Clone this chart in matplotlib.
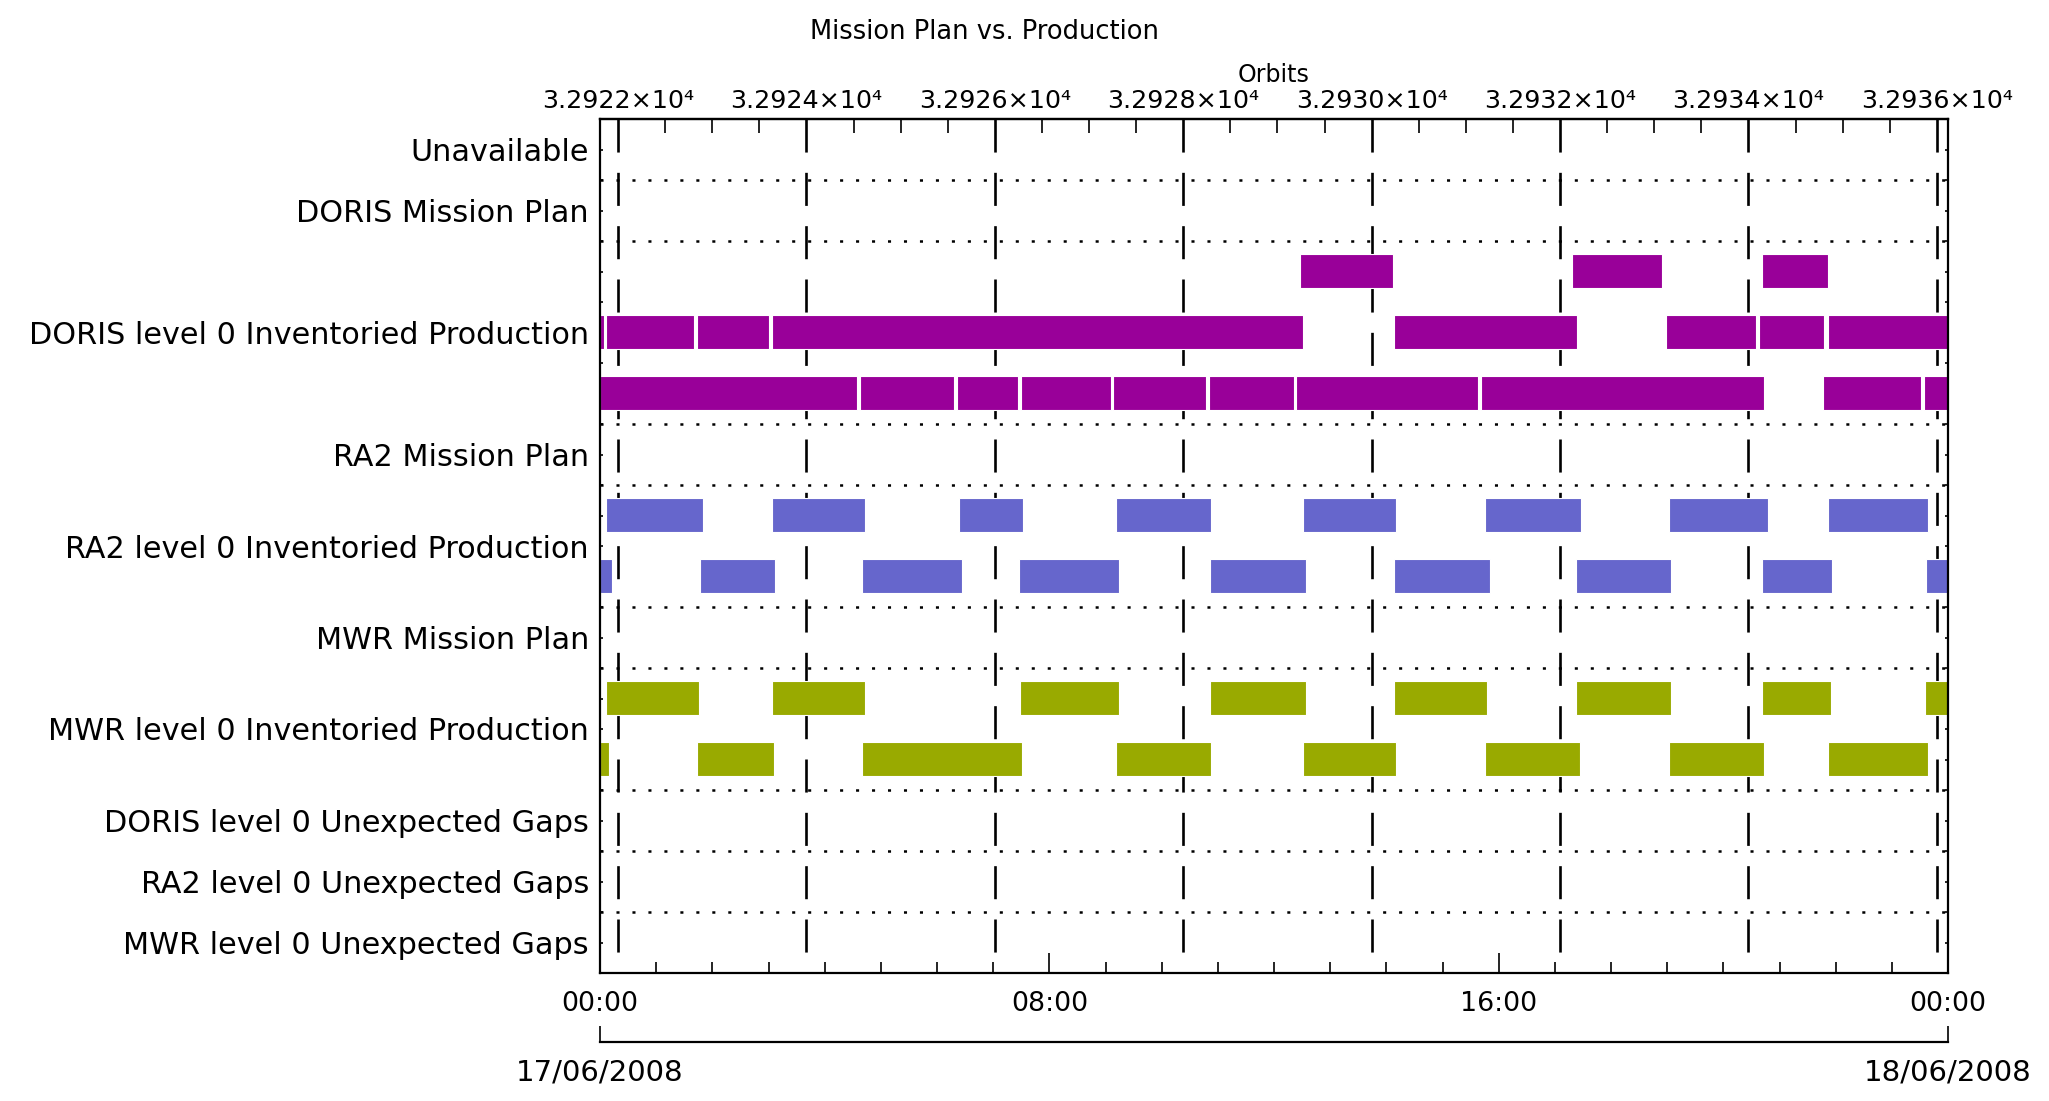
import matplotlib
matplotlib.use("Agg")
import matplotlib.pyplot as plt
import numpy as np
from matplotlib.ticker import MultipleLocator


OUT_FILE = "out.png"

# production slots, (start, end) in hours of 17/06/2008
DORIS_ROW1 = [(12.46, 14.12), (17.30, 18.91), (20.69, 21.86)]
DORIS_ROW2 = [(0.0, 0.07), (0.11, 1.67), (1.73, 3.01), (3.06, 12.52), (14.14, 17.39),
              (18.98, 20.58), (20.63, 21.79), (21.86, 24.0)]
DORIS_ROW3 = [(0.0, 4.58), (4.63, 6.30), (6.36, 7.44), (7.50, 9.10), (9.13, 10.79),
              (10.84, 12.36), (12.39, 15.63), (15.68, 20.72), (21.77, 23.52), (23.57, 24.0)]
RA2_ROW1 = [(0.11, 1.83), (3.06, 4.72), (6.39, 7.53), (9.19, 10.88), (12.52, 14.17),
            (15.76, 17.46), (19.03, 20.79), (21.86, 23.64)]
RA2_ROW2 = [(0.0, 0.21), (1.78, 3.12), (4.66, 6.44), (7.46, 9.24), (10.86, 12.57),
            (14.14, 15.84), (17.38, 19.07), (20.69, 21.93), (23.61, 24.0)]
MWR_ROW1 = [(0.11, 1.76), (3.06, 4.72), (7.48, 9.24), (10.86, 12.57), (14.14, 15.79),
            (17.38, 19.07), (20.69, 21.92), (23.59, 24.0)]
MWR_ROW2 = [(0.0, 0.16), (1.73, 3.10), (4.66, 7.51), (9.19, 10.88), (12.52, 14.17),
            (15.76, 17.45), (19.03, 20.72), (21.86, 23.64)]

ROW_LABELS = ["Unavailable", "DORIS Mission Plan", "DORIS level 0 Inventoried Production",
              "RA2 Mission Plan", "RA2 level 0 Inventoried Production", "MWR Mission Plan",
              "MWR level 0 Inventoried Production", "DORIS level 0 Unexpected Gaps",
              "RA2 level 0 Unexpected Gaps", "MWR level 0 Unexpected Gaps"]
ROW_LABEL_POS = [0.5, 1.5, 3.5, 5.5, 7.0, 8.5, 10.0, 11.5, 12.5, 13.5]
SEPARATORS = [1, 2, 5, 6, 8, 9, 11, 12, 13]
N_ROWS = 14

TIME_TICKS = [0, 8, 16, 24]
TIME_LABELS = ["00:00", "08:00", "16:00", "00:00"]
DATE_LABELS = ["17/06/2008", "18/06/2008"]

ORBIT_TICKS = [32922, 32924, 32926, 32928, 32930, 32932, 32934, 32936]
ORBIT_AT_MIDNIGHT = 32921.809
ORBIT_PERIOD_H = 1.6773

COLORS = {"DORIS": "#990099", "RA2": "#6666cc", "MWR": "#99aa00"}


def to_orbit(h):
    return ORBIT_AT_MIDNIGHT + np.asarray(h) / ORBIT_PERIOD_H


def to_hours(orb):
    return (np.asarray(orb) - ORBIT_AT_MIDNIGHT) * ORBIT_PERIOD_H


plt.rcParams["font.family"] = ["DejaVu Sans"]
plt.rcParams["lines.scale_dashes"] = False

fig = plt.figure(figsize=(20.49, 11.01), dpi=100)
ax = fig.add_axes([600 / 2049, 1 - 973 / 1101, 1348 / 2049, 854 / 1101])
ax.set_xlim(0, 24)
ax.set_ylim(N_ROWS, 0)

# orbit grid lines
for orb in ORBIT_TICKS:
    h = float(to_hours(orb))
    ax.plot([h, h], [0, N_ROWS], color="black", lw=1.9, dashes=(23.8, 14.6),
            dash_capstyle="butt", zorder=1)

for y in SEPARATORS:
    ax.plot([0, 24], [y, y], color="black", lw=1.8, dashes=(2.2, 9.3),
            dash_capstyle="butt", zorder=1)

rows = [(2, DORIS_ROW1, "DORIS"), (3, DORIS_ROW2, "DORIS"), (4, DORIS_ROW3, "DORIS"),
        (6, RA2_ROW1, "RA2"), (7, RA2_ROW2, "RA2"),
        (9, MWR_ROW1, "MWR"), (10, MWR_ROW2, "MWR")]
for top, slots, inst in rows:
    ax.broken_barh([(s, e - s) for s, e in slots], (top + 0.22, 0.55),
                   facecolor=COLORS[inst], edgecolor="white", linewidth=0.8, zorder=2)

for sp in ax.spines.values():
    sp.set_linewidth(1.6)

# y labels
yt = np.arange(0.5, N_ROWS, 0.5)
lab = {p: t for p, t in zip(ROW_LABEL_POS, ROW_LABELS)}
ax.set_yticks(yt, [lab.get(p, "") for p in yt])
ax.tick_params(axis="y", direction="in", length=2.5, width=1.2, left=True, right=True,
               labelsize=21.8, pad=8)

# time axis
ax.set_xticks(TIME_TICKS, TIME_LABELS)
ax.xaxis.set_minor_locator(MultipleLocator(1))
ax.tick_params(axis="x", which="major", direction="in", length=14.4, width=1.2,
               labelsize=19.3, pad=13, top=False)
ax.tick_params(axis="x", which="minor", direction="in", length=8, width=1.2, top=False)

# orbit axis
secax = ax.secondary_xaxis("top", functions=(to_orbit, to_hours))
secax.set_xticks(ORBIT_TICKS, [f"{o / 1e4:.4f}×10⁴" for o in ORBIT_TICKS])
secax.xaxis.set_minor_locator(MultipleLocator(0.5))
secax.tick_params(which="major", direction="in", length=0, labelsize=18.3, pad=4)
secax.tick_params(which="minor", direction="in", length=10, width=1.2)
secax.spines["top"].set_linewidth(1.6)

# date axis
dax = ax.secondary_xaxis(-69 / 854)
dax.set_xticks([0, 24], DATE_LABELS)
dax.tick_params(direction="in", length=11.5, width=1.2, labelsize=21, pad=12)
dax.spines["bottom"].set_linewidth(1.6)

fig.text(1274 / 2049, 1 - 75 / 1101, "Orbits", ha="center", va="center", fontsize=17)
fig.text(984 / 2049, 1 - 32 / 1101, "Mission Plan vs. Production", ha="center",
         va="center", fontsize=18.5)

fig.savefig(OUT_FILE, dpi=100)
